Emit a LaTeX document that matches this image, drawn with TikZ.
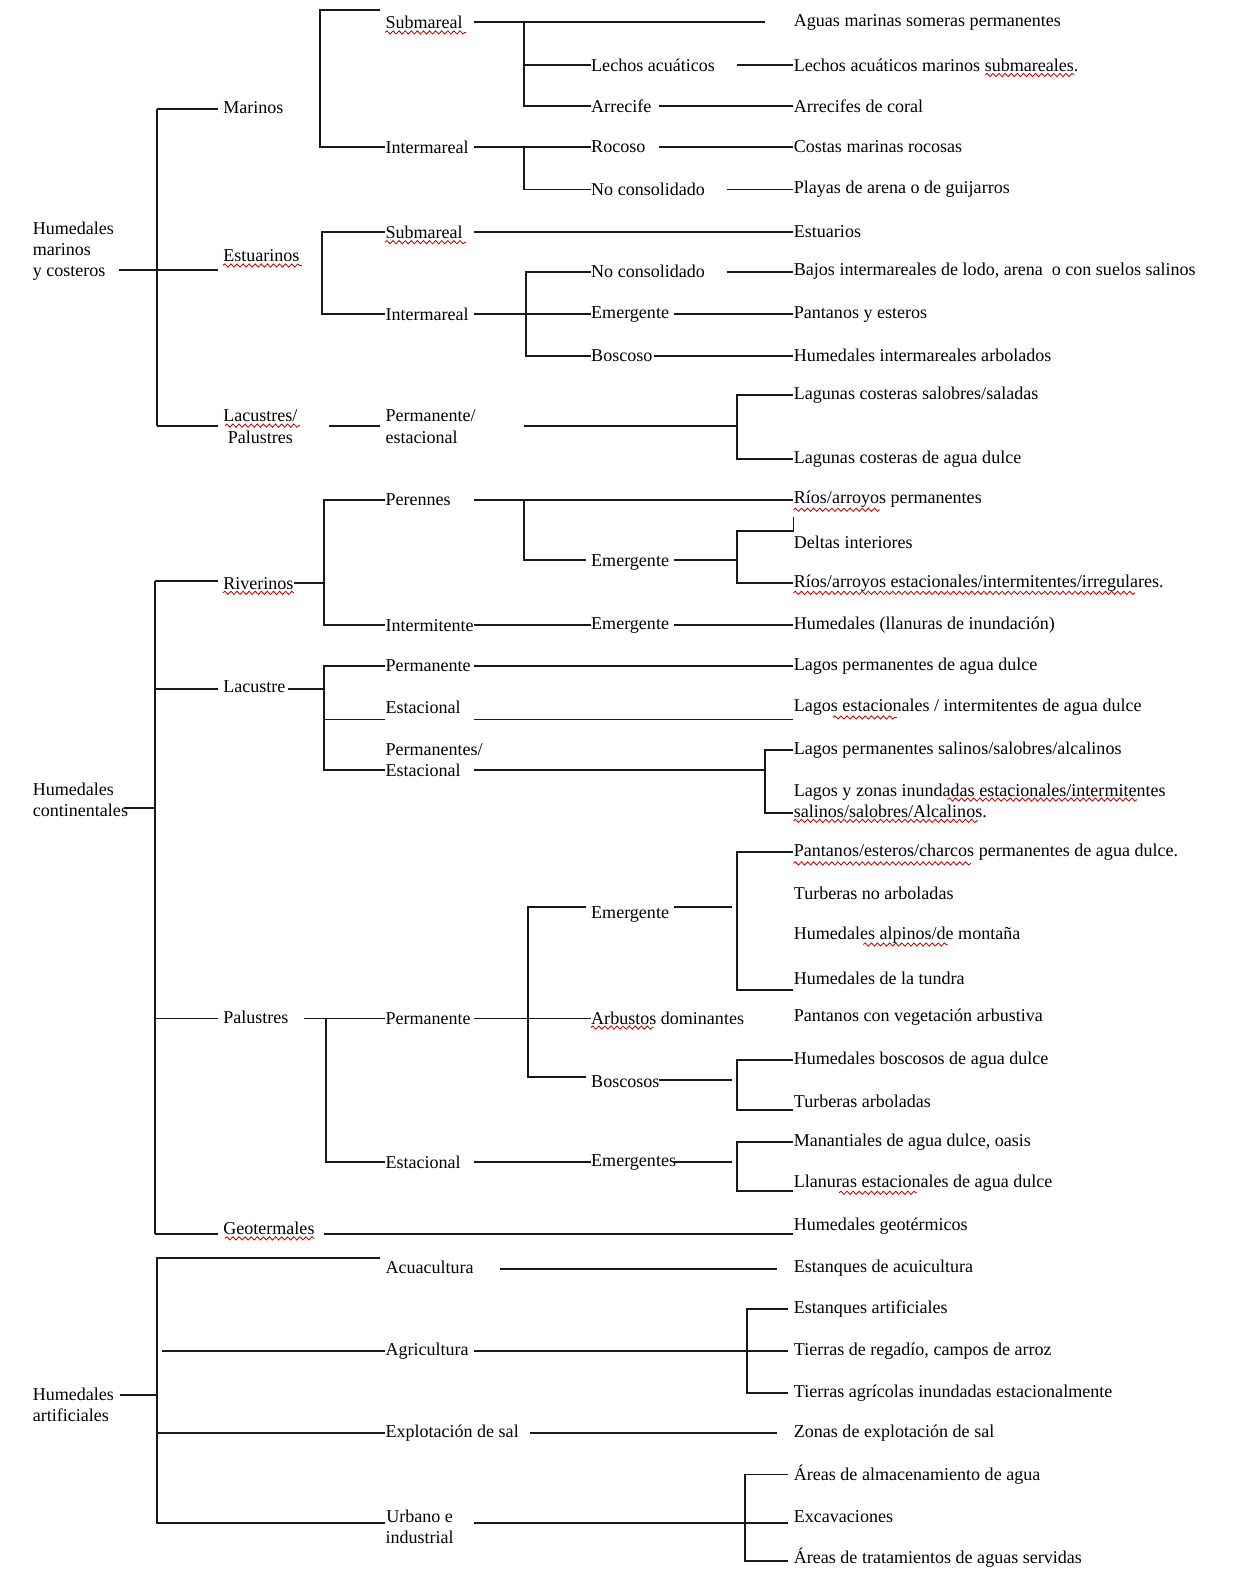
\documentclass[tikz,border=0pt]{standalone}
\usepackage{fontspec}
\setmainfont{Liberation Serif}
\usetikzlibrary{decorations.pathmorphing}
\newcommand{\lblfont}{\fontsize{8.9}{10.4}\selectfont}
\tikzset{
  lbl/.style={anchor=west,inner sep=0pt,font=\lblfont,align=left},
  lblc/.style={lbl,align=center},
  ln/.style={line width=0.95pt,black!90},
  spell/.style={red!75!black,line width=0.4pt,decorate,
    decoration={snake,amplitude=0.8pt,segment length=3pt}},
}

\begin{document}
\begin{tikzpicture}[x=0.5pt,y=-0.5pt]
    \fill[white] (0,0) rectangle (1220,1568);
    \useasboundingbox (0,0) rectangle (1220,1568);
    % humedales marinos y costeros
    \node[lbl] (hmc) at (32,248) {Humedales\\marinos\\y costeros};
    \node[lbl] (marinos) at (220,106) {Marinos};
    \node[lbl] (estuarinos) at (220,252) {Estuarinos};
    \node[lblc] (lacpal) at (220,421) {Lacustres/\\Palustres};
    \node[lbl] (msub) at (380,22) {Submareal};
    \node[lbl] (mint) at (380,145) {Intermareal};
    \node[lbl] (esub) at (380,229) {Submareal};
    \node[lbl] (eint) at (380,310) {Intermareal};
    \node[lbl] (permest) at (380,421) {Permanente/\\estacional};
    \node[lbl] (lechos) at (583,64) {Lechos acuáticos};
    \node[lbl] (arrecife) at (583,105) {Arrecife};
    \node[lbl] (rocoso) at (583,145) {Rocoso};
    \node[lbl] (nocons) at (583,187) {No consolidado};
    \node[lbl] (noconsb) at (583,268) {No consolidado};
    \node[lbl] (emerge) at (583,310) {Emergente};
    \node[lbl] (boscoso) at (583,351) {Boscoso};
    \foreach \n/\y/\t in {aguas/22/{Aguas marinas someras permanentes},
        lechosm/64/{Lechos acuáticos marinos submareales.},
        arrecifes/105/{Arrecifes de coral},
        costas/145/{Costas marinas rocosas},
        playas/187/{Playas de arena o de guijarros},
        estuarios/229/{Estuarios},
        bajos/268/{Bajos intermareales de lodo, arena \ o con suelos salinos},
        pantanos/310/{Pantanos y esteros},
        hinter/351/{Humedales intermareales arbolados},
        lagsal/390/{Lagunas costeras salobres/saladas},
        lagdul/453/{Lagunas costeras de agua dulce}}
      \node[lbl] (\n) at (783,\y) {\t};
    \draw[ln] (155,108) -- (155,420);
    \draw[ln] (155,108) -- (215,108);
    \draw[ln] (117,266) -- (215,266);
    \draw[ln] (155,420) -- (215,420);
    \draw[ln] (375,10) -- (316,10) -- (316,145) -- (mint.west);
    \draw[ln] (468,22) -- (755,22);
    \draw[ln] (517,22) -- (517,105) -- (arrecife.west);
    \draw[ln] (517,64) -- (lechos.west);
    \draw[ln] (727,64) -- (lechosm.west);
    \draw[ln] (650,105) -- (arrecifes.west);
    \draw[ln] (468,145) -- (rocoso.west);
    \draw[ln] (517,145) -- (517,187) -- (nocons.west);
    \draw[ln] (650,145) -- (costas.west);
    \draw[ln] (717,187) -- (playas.west);
    \draw[ln] (esub.west) -- (318,229) -- (318,310) -- (eint.west);
    \draw[ln] (468,229) -- (estuarios.west);
    \draw[ln] (468,310) -- (emerge.west);
    \draw[ln] (noconsb.west) -- (519,268) -- (519,351) -- (boscoso.west);
    \draw[ln] (717,268) -- (bajos.west);
    \draw[ln] (665,310) -- (pantanos.west);
    \draw[ln] (645,351) -- (hinter.west);
    \draw[ln] (325,420) -- (375,420);
    \draw[ln] (517,420) -- (727,420);
    \draw[ln] (lagsal.west) -- (727,390) -- (727,453) -- (lagdul.west);
    % humedales continentales
    \node[lbl] (hcont) at (32,789) {Humedales\\continentales};
    \node[lbl] (riverinos) at (220,576) {Riverinos};
    \node[lbl] (lacustre) at (220,678) {Lacustre};
    \node[lbl] (palustres) at (220,1004) {Palustres};
    \node[lbl] (geotermales) at (220,1212) {Geotermales};
    \node[lbl] (perennes) at (380,493) {Perennes};
    \node[lbl] (intermit) at (380,617) {Intermitente};
    \node[lbl] (lperm) at (380,657) {Permanente};
    \node[lbl] (lest) at (380,698) {Estacional};
    \node[lbl] (lpe) at (380,750) {Permanentes/\\Estacional};
    \node[lbl] (ppal) at (380,1005) {Permanente};
    \node[lbl] (pest) at (380,1147) {Estacional};
    \node[lbl] (emergr) at (583,555) {Emergente};
    \node[lbl] (emergi) at (583,617) {Emergente};
    \node[lbl] (emergp) at (583,902) {Emergente};
    \node[lbl] (arbustos) at (583,1005) {Arbustos dominantes};
    \node[lbl] (boscosos) at (583,1067) {Boscosos};
    \node[lbl] (emergs) at (583,1147) {Emergentes};
    \foreach \n/\y/\t in {rios/493/{Ríos/arroyos permanentes},
        deltas/535/{Deltas interiores},
        riosest/575/{Ríos/arroyos estacionales/intermitentes/irregulares.},
        hllan/617/{Humedales (llanuras de inundación)},
        lagperm/657/{Lagos permanentes de agua dulce},
        lagest/698/{Lagos estacionales / intermitentes de agua dulce},
        lagsalc/740/{Lagos permanentes salinos/salobres/alcalinos},
        lagzon/790/{Lagos y zonas inundadas estacionales/intermitentes\\salinos/salobres/Alcalinos.},
        pantch/841/{Pantanos/esteros/charcos permanentes de agua dulce.},
        turbno/882/{Turberas no arboladas},
        halp/923/{Humedales alpinos/de montaña},
        htun/965/{Humedales de la tundra},
        pveg/1004/{Pantanos con vegetación arbustiva},
        hbosc/1046/{Humedales boscosos de agua dulce},
        turbarb/1087/{Turberas arboladas},
        manant/1127/{Manantiales de agua dulce, oasis},
        llanest/1168/{Llanuras estacionales de agua dulce},
        hgeo/1210/{Humedales geotérmicos}}
      \node[lbl] (\n) at (783,\y) {\t};
    \draw[ln] (122,797) -- (153,797);
    \draw[ln] (153,573) -- (153,1218);
    \draw[ln] (153,573) -- (215,573);
    \draw[ln] (290,575) -- (320,575);
    \draw[ln] (perennes.west) -- (320,493) -- (320,617) -- (intermit.west);
    \draw[ln] (468,493) -- (rios.west);
    \draw[ln] (517,493) -- (517,553) -- (578,553);
    \draw[ln] (665,553) -- (727,553);
    \draw[ln] (783,510) -- (783,524) -- (727,524) -- (727,575) -- (riosest.west);
    \draw[ln] (468,617) -- (emergi.west);
    \draw[ln] (665,617) -- (hllan.west);
    \draw[ln] (153,680) -- (215,680);
    \draw[ln] (284,680) -- (320,680);
    \draw[ln] (lperm.west) -- (320,657) -- (320,760) -- (380,760);
    \draw[ln] (320,710) -- (380,710);
    \draw[ln] (468,657) -- (lagperm.west);
    \draw[ln] (468,710) -- (783,710);
    \draw[ln] (468,760) -- (755,760);
    \draw[ln] (lagsalc.west) -- (755,740) -- (755,802) -- (783,802);
    \draw[ln] (153,1005) -- (215,1005);
    \draw[ln] (300,1005) -- (ppal.west);
    \draw[ln] (322,1005) -- (322,1147) -- (pest.west);
    \draw[ln] (468,1005) -- (arbustos.west);
    \draw[ln] (578,895) -- (521,895) -- (521,1063) -- (578,1063);
    \draw[ln] (665,895) -- (722,895);
    \draw[ln] (pantch.west) -- (727,841) -- (727,977) -- (783,977);
    \draw[ln] (650,1066) -- (722,1066);
    \draw[ln] (hbosc.west) -- (727,1046) -- (727,1095) -- (783,1095);
    \draw[ln] (468,1147) -- (emergs.west);
    \draw[ln] (665,1147) -- (722,1147);
    \draw[ln] (manant.west) -- (727,1127) -- (727,1175) -- (783,1175);
    \draw[ln] (153,1218) -- (215,1218);
    \draw[ln] (320,1218) -- (783,1218);
    % humedales artificiales
    \node[lbl] (hart) at (32,1386) {Humedales\\artificiales};
    \node[lbl] (acua) at (380,1251) {Acuacultura};
    \node[lbl] (agri) at (380,1333) {Agricultura};
    \node[lbl] (expl) at (380,1414) {Explotación de sal};
    \node[lblc] (urb) at (380,1507) {Urbano e\\industrial};
    \foreach \n/\y/\t in {estacu/1251/{Estanques de acuicultura},
        estart/1292/{Estanques artificiales},
        tierreg/1333/{Tierras de regadío, campos de arroz},
        tieragr/1375/{Tierras agrícolas inundadas estacionalmente},
        zonas/1414/{Zonas de explotación de sal},
        areasalm/1455/{Áreas de almacenamiento de agua},
        excav/1497/{Excavaciones},
        areastrat/1537/{Áreas de tratamientos de aguas servidas}}
      \node[lbl] (\n) at (783,\y) {\t};
    \draw[ln] (118,1377) -- (155,1377);
    \draw[ln] (375,1241) -- (155,1241) -- (155,1503) -- (380,1503);
    \draw[ln] (160,1333) -- (agri.west);
    \draw[ln] (155,1414) -- (expl.west);
    \draw[ln] (493,1252) -- (767,1252);
    \draw[ln] (468,1333) -- (778,1333);
    \draw[ln] (778,1292) -- (737,1292) -- (737,1375) -- (778,1375);
    \draw[ln] (523,1414) -- (767,1414);
    \draw[ln] (468,1503) -- (778,1503);
    \draw[ln] (778,1455) -- (735,1455) -- (735,1540) -- (778,1540);
    % spell-check marks
    \foreach \xa/\xb/\y in {380/460/32, 380/460/239, 220/298/262, 222/296/420,
        972/1060/74, 783/868/503, 220/290/585, 783/1120/585, 822/885/708,
        935/1122/789, 783/965/810, 783/958/852, 852/935/932, 583/645/1014,
        828/905/1177, 222/310/1222}
      \draw[spell] (\xa,\y) -- (\xb,\y);
  \end{tikzpicture}
\end{document}
